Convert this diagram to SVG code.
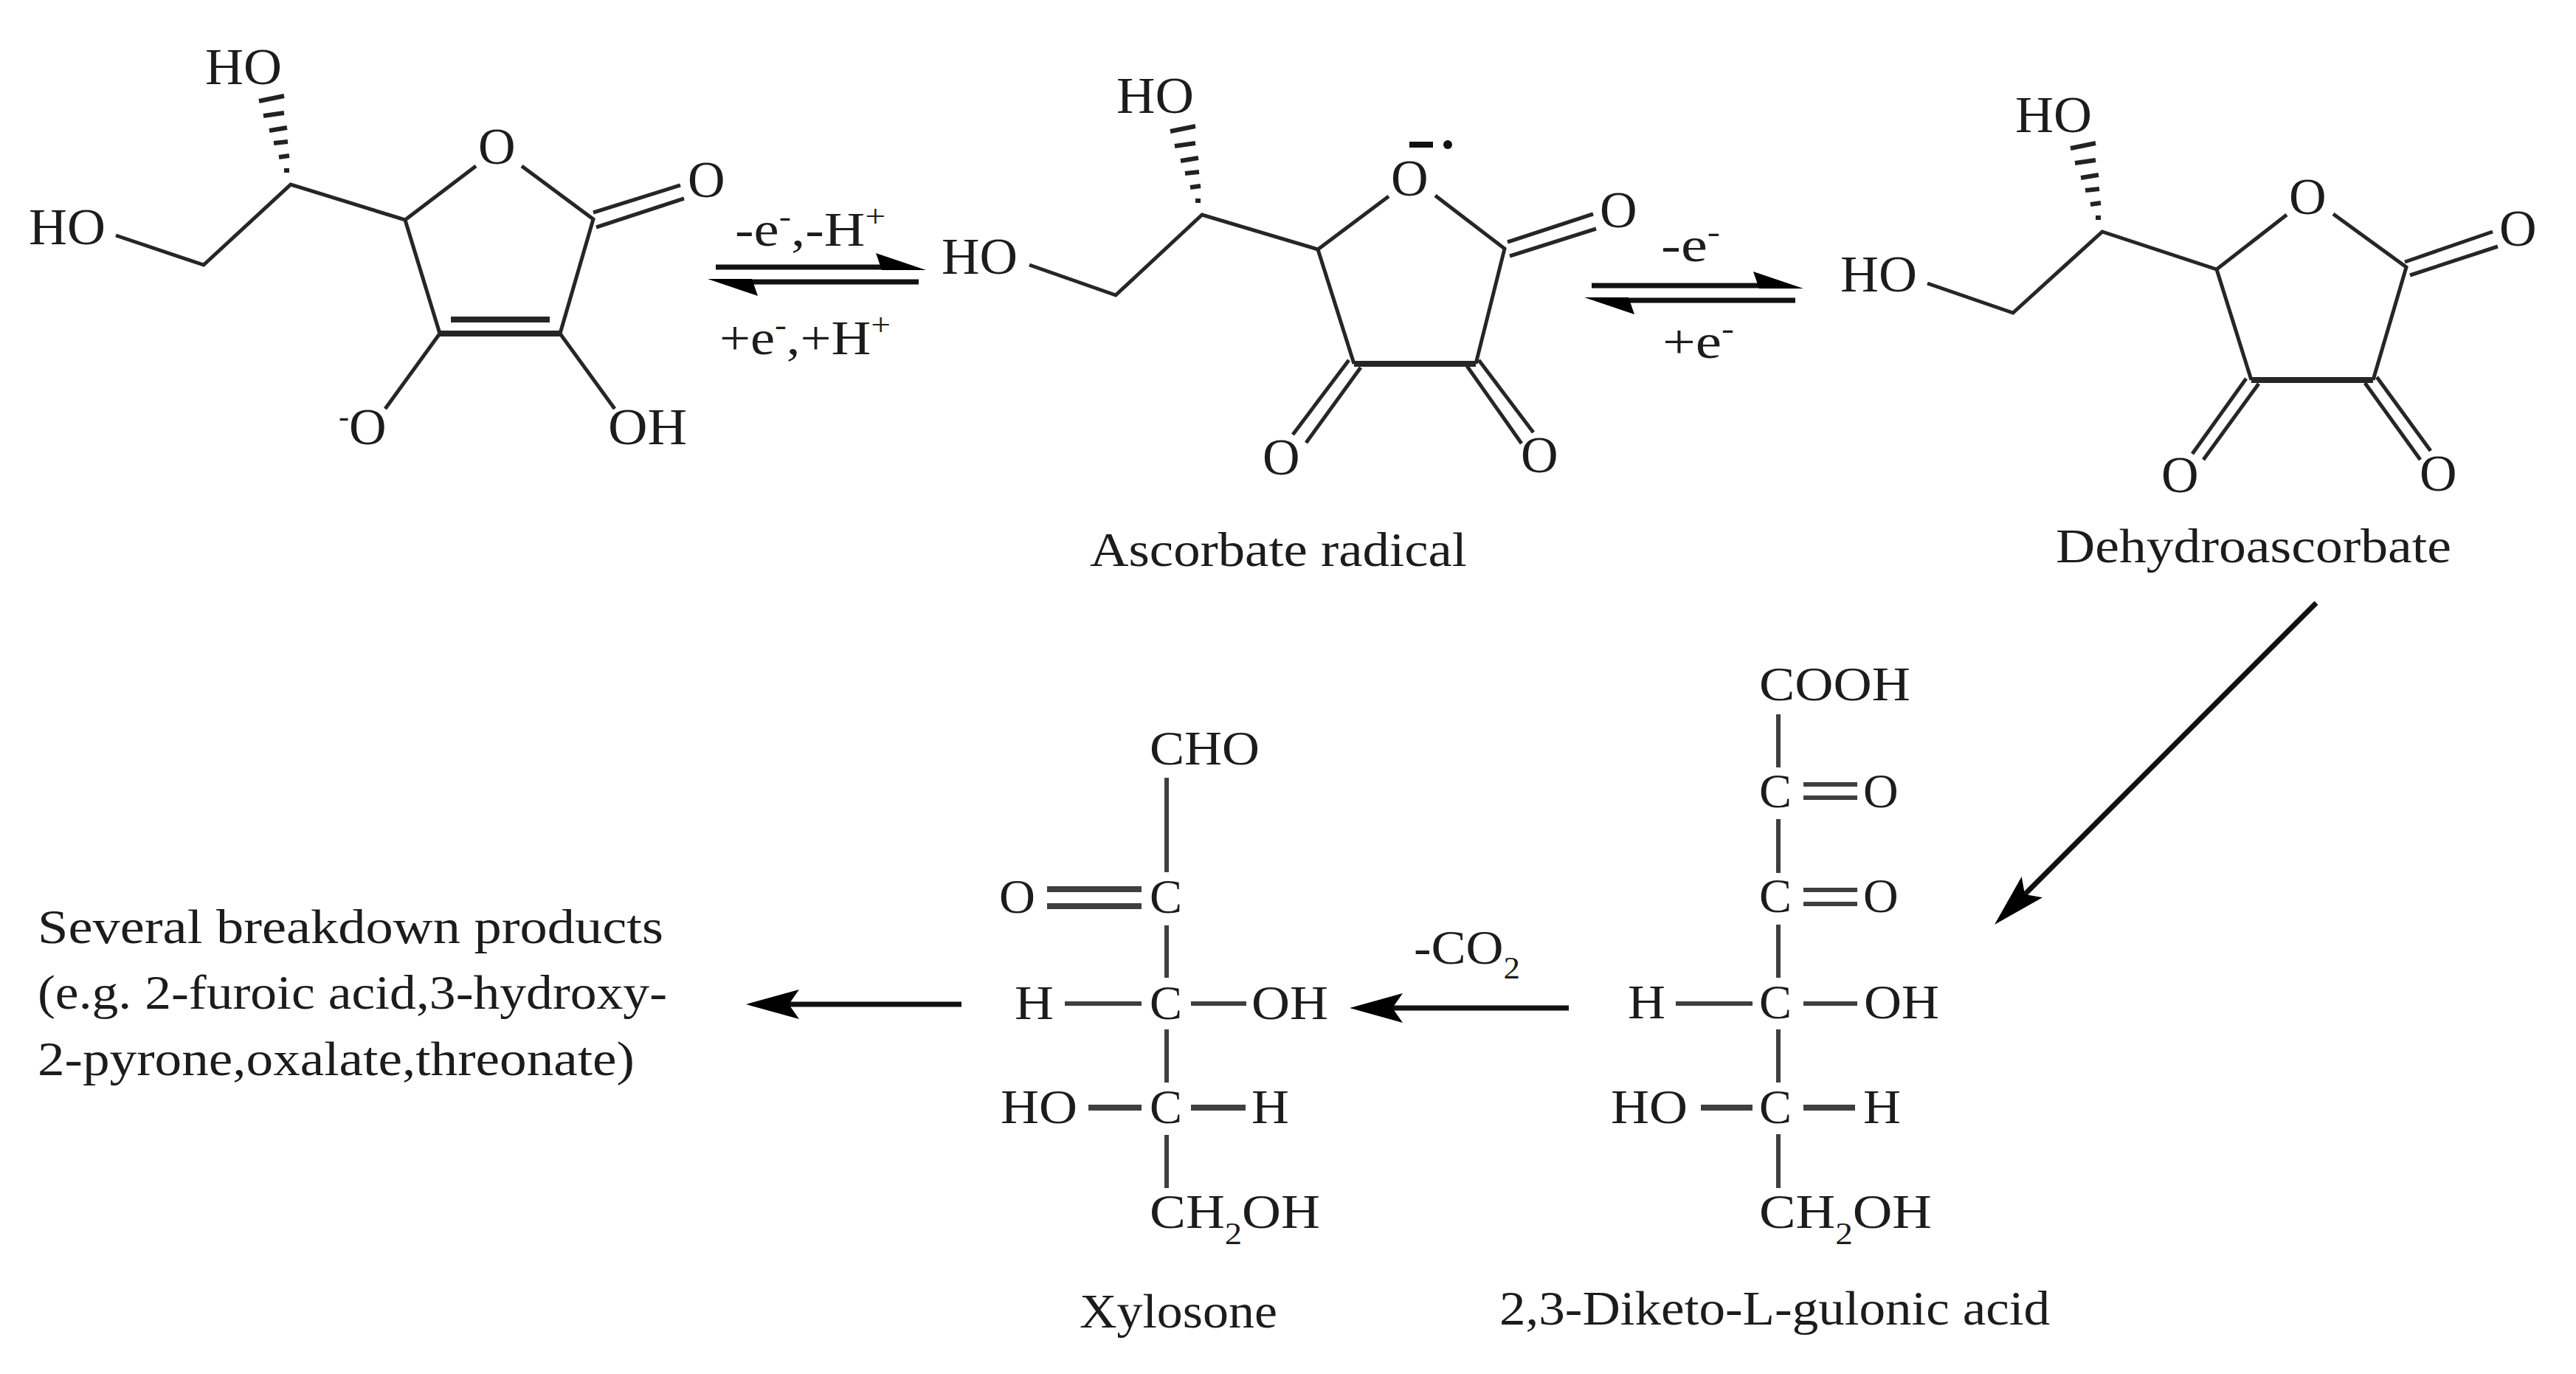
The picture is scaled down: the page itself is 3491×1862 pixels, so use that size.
<svg xmlns="http://www.w3.org/2000/svg" width="3491" height="1862" viewBox="0 0 3491 1862">
<style>
text{font-family:"Liberation Serif","Times New Roman",serif;fill:#1c1c1c;text-anchor:start}
.a{font-size:70px}
.f{font-size:66px}
.n{font-size:65px}
.s{font-size:42px}
.b line,.b path{stroke:#262626;stroke-width:5;fill:none;stroke-linecap:butt}
.f2 line{stroke:#3f3f3f;stroke-width:6;fill:none}
.th{stroke-width:8!important}
.c line{stroke:#111;stroke-width:7;fill:none}
#hash line{stroke:#222;stroke-width:6}
</style>
<defs>
<g id="hash">
<line x1="-43" y1="-113" x2="-9" y2="-120"/><line x1="-37" y1="-93" x2="-9" y2="-97"/><line x1="-29" y1="-73" x2="-5" y2="-77"/><line x1="-23" y1="-56" x2="-4" y2="-58"/><line x1="-16" y1="-37" x2="-2" y2="-39"/><line x1="-9" y1="-19" x2="-2" y2="-19"/>
</g>
<marker id="full" markerUnits="userSpaceOnUse" markerWidth="72" markerHeight="40" viewBox="0 0 72 40" refX="14" refY="20" orient="auto"><path d="M72,20 L0,0 L14,20 L0,40Z" fill="#000"/></marker>
<marker id="half" markerUnits="userSpaceOnUse" markerWidth="68" markerHeight="24" viewBox="0 0 68 24" refX="8" refY="19" orient="auto"><path d="M68,23 L0,0 L8,23Z" fill="#000"/></marker>
</defs>
<rect width="3491" height="1862" fill="#fff"/>

<g id="ascorbate" class="b">
<use href="#hash" x="394" y="250"/>
<path d="M157,319 L276,359 L394,250 L549,298 L645,225"/>
<path d="M707,225 L804,297 L759,452"/>
<path d="M549,298 L596,452"/>
<line x1="596" y1="452" x2="759" y2="452" class="th"/>
<line x1="611" y1="433" x2="745" y2="433" class="th"/>
<line x1="804" y1="288" x2="922" y2="251"/>
<line x1="808" y1="308" x2="927" y2="269"/>
<line x1="596" y1="452" x2="522" y2="554"/>
<line x1="759" y1="452" x2="833" y2="554"/>
<text class="a" x="278" y="114" textLength="104" lengthAdjust="spacingAndGlyphs">HO</text>
<text class="a" x="39" y="331" textLength="104" lengthAdjust="spacingAndGlyphs">HO</text>
<text class="a" x="648" y="222">O</text>
<text class="a" x="932" y="267">O</text>
<text class="a" x="459" y="602"><tspan class="s" dy="-24">-</tspan><tspan dy="24">O</tspan></text>
<text class="a" x="824" y="602" textLength="107" lengthAdjust="spacingAndGlyphs">OH</text>
</g>

<g id="ascorbate-radical" class="b">
<use href="#hash" x="1629" y="291"/>
<path d="M1395,359 L1512,400 L1629,291 L1786,338 L1882,266"/>
<path d="M1945,265 L2039,337 L2000,493"/>
<path d="M1786,338 L1835,493"/>
<line x1="1835" y1="493" x2="2000" y2="493" class="th"/>
<line x1="2043" y1="328" x2="2159" y2="290"/>
<line x1="2046" y1="347" x2="2163" y2="310"/>
<line x1="1828" y1="488" x2="1752" y2="589"/>
<line x1="1844" y1="498" x2="1770" y2="600"/>
<line x1="1988" y1="496" x2="2062" y2="601"/>
<line x1="2004" y1="488" x2="2078" y2="586"/>
<rect x="1910" y="192" width="32" height="8" fill="#111"/>
<circle cx="1962" cy="196" r="6" fill="#111"/>
<text class="a" x="1513" y="153" textLength="105" lengthAdjust="spacingAndGlyphs">HO</text>
<text class="a" x="1276" y="371" textLength="103" lengthAdjust="spacingAndGlyphs">HO</text>
<text class="a" x="1885" y="265">O</text>
<text class="a" x="2168" y="308">O</text>
<text class="a" x="1711" y="643">O</text>
<text class="a" x="2061" y="640">O</text>
<text class="n" x="1477" y="767" textLength="511" lengthAdjust="spacingAndGlyphs">Ascorbate radical</text>
</g>

<g id="dehydroascorbate" class="b">
<use href="#hash" x="2849" y="314"/>
<path d="M2612,384 L2728,424 L2849,314 L3004,365 L3099,291"/>
<path d="M3162,290 L3261,362 L3216,515"/>
<path d="M3004,365 L3051,515"/>
<line x1="3051" y1="515" x2="3216" y2="515" class="th"/>
<line x1="3259" y1="355" x2="3378" y2="314"/>
<line x1="3266" y1="373" x2="3385" y2="334"/>
<line x1="3044" y1="513" x2="2971" y2="615"/>
<line x1="3061" y1="520" x2="2986" y2="623"/>
<line x1="3205" y1="519" x2="3280" y2="623"/>
<line x1="3221" y1="511" x2="3294" y2="611"/>
<text class="a" x="2731" y="179" textLength="104" lengthAdjust="spacingAndGlyphs">HO</text>
<text class="a" x="2494" y="395" textLength="104" lengthAdjust="spacingAndGlyphs">HO</text>
<text class="a" x="3102" y="290">O</text>
<text class="a" x="3387" y="333">O</text>
<text class="a" x="2929" y="667">O</text>
<text class="a" x="3279" y="665">O</text>
<text class="n" x="2786" y="762" textLength="536" lengthAdjust="spacingAndGlyphs">Dehydroascorbate</text>
</g>

<g id="diketogulonic-acid" class="b f2">
<line x1="2410" y1="968" x2="2410" y2="1040"/>
<line x1="2410" y1="1110" x2="2410" y2="1183"/>
<line x1="2410" y1="1253" x2="2410" y2="1325"/>
<line x1="2410" y1="1395" x2="2410" y2="1467"/>
<line x1="2410" y1="1537" x2="2410" y2="1610"/>
<line x1="2444" y1="1063" x2="2517" y2="1063"/>
<line x1="2444" y1="1081" x2="2517" y2="1081"/>
<line x1="2444" y1="1206" x2="2517" y2="1206"/>
<line x1="2444" y1="1225" x2="2517" y2="1225"/>
<line x1="2271" y1="1360" x2="2375" y2="1360"/>
<line x1="2444" y1="1360" x2="2517" y2="1360"/>
<line x1="2305" y1="1501" x2="2375" y2="1501" class="th"/>
<line x1="2444" y1="1501" x2="2514" y2="1501" class="th"/>
<text class="f" x="2384" y="949" textLength="205" lengthAdjust="spacingAndGlyphs">COOH</text>
<text class="f" x="2384" y="1094">C</text>
<text class="f" x="2525" y="1094">O</text>
<text class="f" x="2384" y="1236">C</text>
<text class="f" x="2525" y="1236">O</text>
<text class="f" x="2206" y="1380" textLength="51" lengthAdjust="spacingAndGlyphs">H</text>
<text class="f" x="2384" y="1380">C</text>
<text class="f" x="2526" y="1380" textLength="102" lengthAdjust="spacingAndGlyphs">OH</text>
<text class="f" x="2183" y="1522" textLength="104" lengthAdjust="spacingAndGlyphs">HO</text>
<text class="f" x="2384" y="1522">C</text>
<text class="f" x="2525" y="1522" textLength="51" lengthAdjust="spacingAndGlyphs">H</text>
<text class="f" x="2384" y="1664" textLength="234" lengthAdjust="spacingAndGlyphs">CH<tspan class="s" dy="22">2</tspan><tspan dy="-22">OH</tspan></text>
<text class="n" x="2032" y="1795" textLength="746" lengthAdjust="spacingAndGlyphs">2,3-Diketo-L-gulonic acid</text>
</g>

<g id="xylosone" class="b f2">
<line x1="1581" y1="1054" x2="1581" y2="1182"/>
<line x1="1581" y1="1254" x2="1581" y2="1325"/>
<line x1="1581" y1="1395" x2="1581" y2="1467"/>
<line x1="1581" y1="1538" x2="1581" y2="1610"/>
<line x1="1419" y1="1205" x2="1547" y2="1205" class="th"/>
<line x1="1419" y1="1228" x2="1547" y2="1228" class="th"/>
<line x1="1443" y1="1360" x2="1547" y2="1360"/>
<line x1="1614" y1="1360" x2="1689" y2="1360"/>
<line x1="1475" y1="1501" x2="1547" y2="1501" class="th"/>
<line x1="1614" y1="1501" x2="1688" y2="1501" class="th"/>
<text class="f" x="1558" y="1036" textLength="149" lengthAdjust="spacingAndGlyphs">CHO</text>
<text class="f" x="1354" y="1237" textLength="49" lengthAdjust="spacingAndGlyphs">O</text>
<text class="f" x="1558" y="1237">C</text>
<text class="f" x="1375" y="1381" textLength="53" lengthAdjust="spacingAndGlyphs">H</text>
<text class="f" x="1558" y="1381">C</text>
<text class="f" x="1696" y="1381" textLength="104" lengthAdjust="spacingAndGlyphs">OH</text>
<text class="f" x="1356" y="1522" textLength="104" lengthAdjust="spacingAndGlyphs">HO</text>
<text class="f" x="1558" y="1522">C</text>
<text class="f" x="1696" y="1522" textLength="51" lengthAdjust="spacingAndGlyphs">H</text>
<text class="f" x="1558" y="1664" textLength="231" lengthAdjust="spacingAndGlyphs">CH<tspan class="s" dy="22">2</tspan><tspan dy="-22">OH</tspan></text>
<text class="n" x="1463" y="1799" textLength="268" lengthAdjust="spacingAndGlyphs">Xylosone</text>
</g>

<g id="breakdown-products">
<text class="n" x="51" y="1278" textLength="848" lengthAdjust="spacingAndGlyphs">Several breakdown products</text>
<text class="n" x="51" y="1367" textLength="853" lengthAdjust="spacingAndGlyphs">(e.g. 2-furoic acid,3-hydroxy-</text>
<text class="n" x="51" y="1457" textLength="809" lengthAdjust="spacingAndGlyphs">2-pyrone,oxalate,threonate)</text>
</g>

<g id="connectors" class="c">
<line x1="970" y1="362" x2="1195" y2="362" marker-end="url(#half)"/>
<line x1="1245" y1="382" x2="1019" y2="382" marker-end="url(#half)"/>
<line x1="2157" y1="387" x2="2384" y2="387" marker-end="url(#half)"/>
<line x1="2433" y1="407" x2="2207" y2="407" marker-end="url(#half)"/>
<line x1="3139" y1="817" x2="2744" y2="1212" marker-end="url(#full)"/>
<line x1="2126" y1="1366" x2="1887" y2="1366" marker-end="url(#full)"/>
<line x1="1303" y1="1361" x2="1069" y2="1361" marker-end="url(#full)"/>
</g>

<g id="reaction-labels">
<text class="f" x="996" y="333" textLength="204" lengthAdjust="spacingAndGlyphs">-e<tspan class="s" dy="-26">-</tspan><tspan dy="26">,-H</tspan><tspan class="s" dy="-26">+</tspan></text>
<text class="f" x="975" y="480" textLength="232" lengthAdjust="spacingAndGlyphs">+e<tspan class="s" dy="-26">-</tspan><tspan dy="26">,+H</tspan><tspan class="s" dy="-26">+</tspan></text>
<text class="f" x="2251" y="354" textLength="80" lengthAdjust="spacingAndGlyphs">-e<tspan class="s" dy="-26">-</tspan></text>
<text class="f" x="2253" y="485" textLength="97" lengthAdjust="spacingAndGlyphs">+e<tspan class="s" dy="-26">-</tspan></text>
<text class="f" x="1916" y="1306" textLength="144" lengthAdjust="spacingAndGlyphs">-CO<tspan class="s" dy="20">2</tspan></text>
</g>
</svg>
